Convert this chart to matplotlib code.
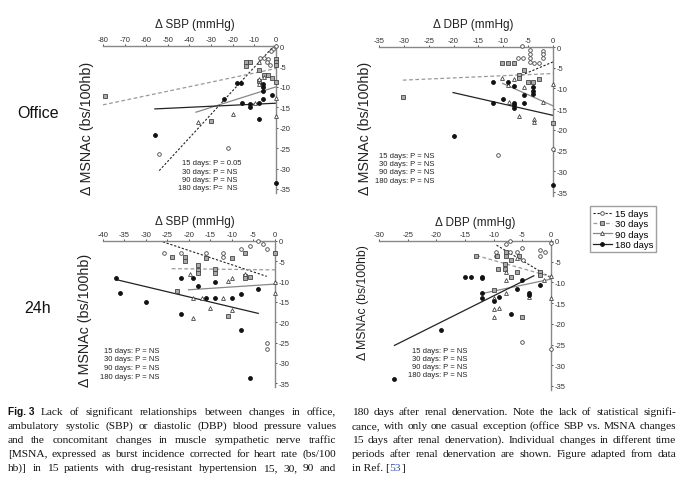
import matplotlib
matplotlib.use('Agg')
import matplotlib.pyplot as plt
from matplotlib.lines import Line2D

W, H = 681, 485

days = ['15 days', '30 days', '90 days', '180 days']

# Office, delta SBP vs delta MSNAc
office_sbp_d15 = [(0, 0), (-1.2, -0.7), (-2.5, -1.2), (-7.5, -2.9), (-5.5, -2.9), (-3.5, -3.1),
                  (-4.2, -3.9), (-2.6, -4.7), (-22, -25), (-54, -26.5)]
office_sbp_d30 = [(-79, -12.3), (-30, -18.4), (-14, -3.9), (-12, -3.9), (-14, -4.8), (-7.9, -5.9),
                  (-5.7, -7), (-3.7, -7.2), (-2, -7.8), (-7.9, -8.5), (0, -3.1), (0, -3.9),
                  (0, -4.7), (0, -8.8)]
office_sbp_d90 = [(-36, -18.6), (-20, -16.7), (-7.9, -3.9), (-7.9, -8), (-5.7, -7.6), (-9.7, -14),
                  (0, -12.8), (0, -17.2), (-7.9, -9.2)]
office_sbp_d180 = [(-56, -21.9), (-24, -12.9), (-18, -9), (-16, -9), (-15.8, -14), (-11.9, -14.2),
                   (-11.9, -15), (-7.9, -14), (-7.9, -17.9), (-5.8, -12.9), (-5.8, -11),
                   (-5.8, -10), (-5.8, -9.2), (-1.8, -11.9), (0, -33.5)]
office_sbp_fits = [((-54, -30.5), (-1, 0)), ((-80, -14.4), (0, -5.5)),
                   ((-37, -16.2), (0, -10)), ((-56, -15.4), (0, -14))]
office_sbp_p = ['P = 0.05', 'P = NS', 'P = NS', 'P=  NS']

# 24h, delta SBP vs delta MSNAc
amb_sbp_d15 = [(-25.9, -3), (-21.9, -3), (-16, -3), (-12, -3), (-12, -4), (-7.8, -1.9),
               (-5.8, -1.2), (-3.9, 0), (-2.9, -0.8), (-1.9, -2), (-1.9, -25), (-1.9, -26.5)]
amb_sbp_d30 = [(-24, -3.9), (-20.9, -3.9), (-20.9, -4.9), (-18, -6), (-18, -7.1), (-18, -7.9),
               (-16, -4.1), (-13.9, -6.9), (-13.9, -7.9), (-9.9, -4.1), (-7, -2.9), (-7, -8.6),
               (-5.8, -8.8), (-7, -9.2), (-22.8, -12.2), (-11, -18.5), (0, -2.9)]
amb_sbp_d90 = [(-19.7, -8), (-10, -9), (-11, -9.8), (-7, -8), (-19, -13.9), (-17, -13.9),
               (-12, -13.9), (-15, -16.5), (-10, -17), (-19, -18.9), (0, -12.9), (0, -10)]
amb_sbp_d180 = [(-36.9, -9), (-36, -12.9), (-30, -14.9), (-21.9, -9), (-19, -9), (-18, -11),
                (-13.9, -10), (-16, -13.9), (-13.9, -13.9), (-10, -14), (-7.9, -13),
                (-3.9, -11.8), (-21.9, -17.9), (-7.9, -21.8), (-5.8, -33.6)]
amb_sbp_fits = [((-26.1, -0.2), (-1.9, -8.7)), ((-24, -6.8), (0, -7.1)),
                ((-20.1, -12), (0, -10.6)), ((-36.9, -9.5), (-3.9, -17.8))]
amb_sbp_p = ['P = NS', 'P = NS', 'P = NS', 'P = NS']

# Office, delta DBP vs delta MSNAc
office_dbp_d15 = [(-6.3, 0.2), (-4.7, -0.8), (-4.7, -1.8), (-4.7, -2.6), (-4.7, -3.5), (-2, -1),
                  (-2, -1.8), (-2, -2.6), (-7, -2.6), (-6, -2.6), (-2.9, -3.9), (-3.9, -3.9),
                  (-11, -26), (0, -24.5)]
office_dbp_d30 = [(-10.2, -3.9), (-9, -3.9), (-7.9, -3.9), (-5.9, -5.6), (-6.8, -6.7),
                  (-6.8, -7.5), (-5, -8.5), (-4.1, -8.5), (-2.9, -7.7), (-30.2, -12.1), (0, -18.3)]
office_dbp_d90 = [(-10.2, -7.5), (-9, -9.1), (-7.8, -7.7), (-5.9, -9.7), (-2, -13.3),
                  (-6.8, -16.7), (-3.9, -17.3), (-3.9, -18.1), (0, -9), (-8.8, -13.3)]
office_dbp_d180 = [(-12, -8.5), (-9, -8.5), (-7.9, -9.3), (-4, -9.7), (-4, -10.5), (-4, -11.3),
                   (-5.9, -11.5), (-10, -12.5), (-12, -13.5), (-7.9, -13.5), (-7.9, -14.1),
                   (-7.9, -14.7), (-5.9, -13.5), (-20, -21.6), (0, -33.3)]
office_dbp_fits = [((-7.1, -7.2), (0, -3.6)), ((-30.2, -8), (0, -6.4)),
                   ((-10.1, -8.8), (0, -14.2)), ((-20.1, -11), (0, -16.5))]
office_dbp_p = ['P = NS', 'P = NS', 'P = NS', 'P = NS']

# 24h, delta DBP vs delta MSNAc
amb_dbp_d15 = [(-7.1, 0), (-7.9, -0.7), (-9.6, -2.6), (-9.6, -3.5), (-7.1, -2.6), (-5, -1.8),
               (-2, -2.2), (-1, -2.6), (-2, -3.5), (-4.9, -4.6), (0, -0.4), (-5, -24.4),
               (0, -26), (-6, -2.6)]
amb_dbp_d30 = [(-13, -3.5), (-9.5, -3.5), (-7.9, -2.6), (-7.9, -3.5), (-7, -4.6), (-8, -5.6),
               (-8, -6.8), (-9.2, -6.8), (-7, -8.6), (-6, -7.4), (-2, -7.4), (-2, -8.1),
               (-10, -11.9), (-5, -18.3), (-5.5, -3.5)]
amb_dbp_d90 = [(-7.9, -7.6), (-7.9, -9.4), (-10, -13.7), (-10, -16.3), (-10, -18.3), (-9, -16.1),
               (-7.9, -12.5), (-3.9, -13.5), (-1.3, -9.4), (0, -8.4), (0, -13.7), (-6, -4.2)]
amb_dbp_d180 = [(-15, -8.6), (-14, -8.6), (-12, -8.6), (-12, -8.9), (-12, -12.5), (-12, -13.7),
                (-10, -14.5), (-9, -13.6), (-7, -17.5), (-6, -11.6), (-5, -9.4), (-3.9, -12.5),
                (-3.9, -13), (-2, -10.6), (-19.1, -21.4), (-27.3, -33.2)]
amb_dbp_fits = [((-9.5, -1), (0, -8.9)), ((-13, -3.5), (0, -8.6)),
                ((-12.1, -12.7), (0, -9.2)), ((-27.3, -25.2), (-3, -8.4))]
amb_dbp_p = ['P = NS', 'P = NS', 'P = NS', 'P = NS']

caption_left = [
    "Lack of significant relationships between changes in office,",
    "ambulatory systolic (SBP) or diastolic (DBP) blood pressure values",
    "and the concomitant changes in muscle sympathetic nerve traffic",
    "[MSNA, expressed as burst incidence corrected for heart rate (bs/100",
    "hb)] in 15 patients with drug-resistant hypertension 15, 30, 90 and",
]
caption_right = [
    "180 days after renal denervation. Note the lack of statistical signifi-",
    "cance, with only one casual exception (office SBP vs. MSNA changes",
    "15 days after renal denervation). Individual changes in different time",
    "periods after renal denervation are shown. Figure adapted from data",
]

plt.rcParams['font.family'] = ['Liberation Sans', 'DejaVu Sans']
plt.rcParams['axes.unicode_minus'] = False

# marker / line styles per series
mk = [dict(marker='o', mfc='white', mec='#444', ms=2.6, mew=0.6),
      dict(marker='s', mfc='#aaa', mec='#444', ms=2.6, mew=0.6),
      dict(marker='^', mfc='white', mec='#444', ms=2.8, mew=0.6),
      dict(marker='o', mfc='#111', mec='#111', ms=2.8, mew=0.6)]
ln = [dict(color='#222', ls=(0, (2, 1.6)), lw=0.8),
      dict(color='#999', ls=(0, (3, 2)), lw=0.9),
      dict(color='#888', ls='-', lw=0.9),
      dict(color='#222', ls='-', lw=0.9)]

fig = plt.figure(figsize=(W / 100, H / 100), dpi=100)
fig.patch.set_facecolor('white')


def panel(xr, px, yr, py, xlim, ylim, xticks, series, fits, pvals, txt_x, txt_y):
    sx = (px[1] - px[0]) / (xr[1] - xr[0])
    sy = (py[1] - py[0]) / (yr[1] - yr[0])
    left = px[0] + (xlim[0] - xr[0]) * sx
    right = px[0] + (xlim[1] - xr[0]) * sx
    top = py[0] + (ylim[1] - yr[0]) * sy
    bottom = py[0] + (ylim[0] - yr[0]) * sy
    ax = fig.add_axes([left / W, 1 - bottom / H, (right - left) / W, (bottom - top) / H])
    ax.set_xlim(xlim)
    ax.set_ylim(ylim)
    ax.patch.set_alpha(0)
    ax.spines['left'].set_visible(False)
    ax.spines['bottom'].set_visible(False)
    ax.spines['top'].set_position(('data', 0))
    ax.spines['top'].set_bounds(xticks[0], 0)
    ax.spines['right'].set_position(('data', 0))
    ax.spines['right'].set_bounds(-36, 0)
    for s in ['top', 'right']:
        ax.spines[s].set_color('#888')
        ax.spines[s].set_linewidth(1.0)
    ax.xaxis.set_ticks_position('top')
    ax.yaxis.set_ticks_position('right')
    ax.set_xticks(xticks)
    ax.set_yticks(range(0, -40, -5))
    ax.tick_params(labelsize=5.5, length=1.5, width=0.6, colors='#333', pad=1)
    for i in range(4):
        (x0, y0), (x1, y1) = fits[i]
        ax.plot([x0, x1], [y0, y1], zorder=2, **ln[i])
    for i, pts in enumerate(series):
        xs = [p[0] for p in pts]
        ys = [p[1] for p in pts]
        ax.plot(xs, ys, ls='none', zorder=3, clip_on=False, **mk[i])
    for i in range(4):
        ax.text(txt_x, txt_y[i], days[i] + ':', ha='right', va='center', fontsize=5.5, color='#222')
        ax.text(txt_x, txt_y[i], ' ' + pvals[i], ha='left', va='center', fontsize=5.5, color='#222')
    return ax


panel((-80, 0), (103, 276), (0, -35), (47, 190), (-81, 1.5), (-36.5, 1),
      list(range(-80, 1, 10)),
      [office_sbp_d15, office_sbp_d30, office_sbp_d90, office_sbp_d180],
      office_sbp_fits, office_sbp_p, -30, [-28.4, -30.6, -32.6, -34.6])
panel((-40, 0), (103, 275), (0, -30), (242, 364), (-40.5, 0.8), (-36.5, 1),
      list(range(-40, 1, 5)),
      [amb_sbp_d15, amb_sbp_d30, amb_sbp_d90, amb_sbp_d180],
      amb_sbp_fits, amb_sbp_p, -33, [-27, -29, -31.1, -33.2])
panel((-35, 0), (379, 553), (0, -35), (48, 193), (-35.5, 0.7), (-36.5, 1),
      list(range(-35, 1, 5)),
      [office_dbp_d15, office_dbp_d30, office_dbp_d90, office_dbp_d180],
      office_dbp_fits, office_dbp_p, -29.1, [-26.1, -28.1, -30.1, -32.3])
panel((-30, 0), (379, 551), (0, -35), (242, 387), (-30.5, 0.6), (-36.5, 1),
      list(range(-30, 1, 5)),
      [amb_dbp_d15, amb_dbp_d30, amb_dbp_d90, amb_dbp_d180],
      amb_dbp_fits, amb_dbp_p, -19.1, [-26.5, -28.3, -30.3, -32.3])


def ftext(x, y, s, **kw):
    return fig.text(x / W, 1 - y / H, s, **kw)


ftext(195, 25, '\u0394 SBP (mmHg)', ha='center', va='center', fontsize=8.5, color='#222')
ftext(473, 25, '\u0394 DBP (mmHg)', ha='center', va='center', fontsize=8.5, color='#222')
ftext(195, 222, '\u0394 SBP (mmHg)', ha='center', va='center', fontsize=8.5, color='#222')
ftext(475, 223, '\u0394 DBP (mmHg)', ha='center', va='center', fontsize=8.5, color='#222')
for x, y, fs in [(87, 128, 10.3), (365, 128, 10.3), (85, 320, 10.3), (363, 303, 8.8)]:
    ftext(x, y, '\u0394 MSNAc (bs/100hb)', ha='center', va='center', rotation=90,
          fontsize=fs, color='#222')
ftext(38, 114, 'Office', ha='center', va='center', fontsize=11.5, color='#111')
ftext(38, 309, '24h', ha='center', va='center', fontsize=11.5, color='#111')

handles = [Line2D([], [], **ln[i], **mk[i]) for i in range(4)]
fig.legend(handles, days, loc='upper left', bbox_to_anchor=(590 / W, 1 - 207 / H),
           fontsize=6.8, frameon=True, fancybox=False, edgecolor='#888',
           handlelength=2.0, handletextpad=0.3, borderpad=0.3, labelspacing=0.15,
           borderaxespad=0)

# caption, justified in two columns
renderer = fig.canvas.get_renderer()
cap_kw = dict(fontsize=8.2, family='Liberation Serif', color='#111', va='baseline')
line_y = [415, 429, 443, 457, 471]


def place_words(tokens, x0, x1, y, justify):
    texts = []
    for s, kw in tokens:
        texts.append(ftext(0, y, s, **{**cap_kw, **kw}))
    widths = [t.get_window_extent(renderer).width for t in texts]
    if justify and len(texts) > 1:
        gap = (x1 - x0 - sum(widths)) / (len(texts) - 1)
    else:
        gap = ftext(0, y, ' ', **cap_kw).get_window_extent(renderer).width
    x = x0
    for t, w in zip(texts, widths):
        t.set_position((x / W, 1 - y / H))
        x += w + gap


for i, line in enumerate(caption_left):
    toks = [(w, {}) for w in line.split()]
    if i == 0:
        toks = [('Fig. 3', dict(family='Liberation Sans', weight='bold', fontsize=7.3))] + toks
    place_words(toks, 8, 336, line_y[i], True)
for i, line in enumerate(caption_right):
    place_words([(w, {}) for w in line.split()], 352, 676, line_y[i], True)

t1 = ftext(352, line_y[4], 'in Ref. [', **cap_kw)
w1 = t1.get_window_extent(renderer).width
t2 = ftext(352 + w1, line_y[4], '53', **{**cap_kw, 'color': '#2b4bb0'})
w2 = t2.get_window_extent(renderer).width
ftext(352 + w1 + w2, line_y[4], ']', **cap_kw)

fig.savefig('out.png', dpi=100)
